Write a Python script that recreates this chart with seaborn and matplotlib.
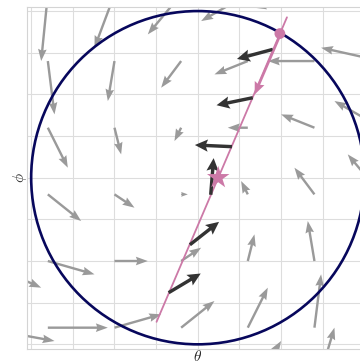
import numpy as np
import pandas as pd
import matplotlib
matplotlib.use("Agg")
import matplotlib.pyplot as plt
import seaborn as sns
from matplotlib.patches import Circle

# ---------------- data ----------------
# sample grid of the background vector field (arrow tails)
grid_x = [-5.2, -3.6, -2.0, -0.4, 1.2, 2.8, 4.4]
grid_y = [4.4, 2.8, 1.2, -0.4, -2.0, -3.6, -5.2]
# field components at the grid (rows follow grid_y, columns follow grid_x)
field_u = [
    [0.8, -0.8, -2.4, -4.0, -5.6, -7.2, -8.8],
    [2.4, 0.8, -0.8, -2.4, -4.0, -5.6, -7.2],
    [4.0, 2.4, 0.8, -0.8, -2.4, -4.0, -5.6],
    [5.6, 4.0, 2.4, 0.8, -0.8, -2.4, -4.0],
    [7.2, 5.6, 4.0, 2.4, 0.8, -0.8, -2.4],
    [8.8, 7.2, 5.6, 4.0, 2.4, 0.8, -0.8],
    [10.4, 8.8, 7.2, 5.6, 4.0, 2.4, 0.8],
]
field_v = [
    [-9.6, -8.0, -6.4, -4.8, -3.2, -1.6, 0.0],
    [-8.0, -6.4, -4.8, -3.2, -1.6, 0.0, 1.6],
    [-6.4, -4.8, -3.2, -1.6, 0.0, 1.6, 3.2],
    [-4.8, -3.2, -1.6, 0.0, 1.6, 3.2, 4.8],
    [-3.2, -1.6, 0.0, 1.6, 3.2, 4.8, 6.4],
    [-1.6, 0.0, 1.6, 3.2, 4.8, 6.4, 8.0],
    [0.0, 1.6, 3.2, 4.8, 6.4, 8.0, 9.6],
]

# constraint circle
circle_center = (0.0, 0.0)
circle_radius = 4.0

# pink search line, start point, step arrow and optimum star
line_x = [-0.99, 2.14]
line_y = [-3.46, 3.85]
start_x = [1.97]
start_y = [3.46]
step_u = [-0.62]
step_v = [-1.44]
star_x = [0.49]
star_y = [0.0]

# normalised field directions sampled along the line (dark arrows)
samp_x = [1.80, 1.32, 0.82, 0.31, -0.19, -0.70]
samp_y = [3.08, 1.92, 0.745, -0.41, -1.61, -2.76]
samp_u = [-0.86, -0.87, -0.89, 0.07, 0.70, 0.77]
samp_v = [-0.23, -0.18, 0.04, 0.88, 0.55, 0.46]

x_label = r"$\theta$"
y_label = r"$\phi$"

# ---------------- styling ----------------
sns.set_style("whitegrid", {"grid.color": "#dddddd", "axes.edgecolor": "#d4d4d4"})
plt.rcParams["mathtext.fontset"] = "cm"

PINK = "#cc79a7"
NAVY = "#07075c"
GRAY = "#9a9a9a"
DARK = "#333333"

W, H = 360, 364
fig = plt.figure(figsize=(W / 100, H / 100), dpi=100)
ax = fig.add_axes([27 / W, (H - 348.5) / H, 341.6 / W, 341.6 / H])

X, Y = np.meshgrid(grid_x, grid_y)
ax.quiver(X, Y, np.array(field_u), np.array(field_v), angles="xy",
          scale_units="xy", scale=5, color=GRAY, width=0.007,
          headwidth=3.6, headlength=5, headaxislength=4.5, zorder=2)

ax.add_patch(Circle(circle_center, circle_radius, fill=False, ec=NAVY,
                    lw=1.9, zorder=3))

line_df = pd.DataFrame({"x": line_x, "y": line_y})
sns.lineplot(data=line_df, x="x", y="y", sort=False, estimator=None,
             color=PINK, lw=1.3, ax=ax, zorder=4)

ax.quiver(samp_x, samp_y, samp_u, samp_v, angles="xy", scale_units="xy",
          scale=1, color=DARK, width=0.010, headwidth=3.6,
          headlength=3.8, headaxislength=3.3, zorder=5)

ax.quiver(start_x, start_y, step_u, step_v, angles="xy", scale_units="xy",
          scale=1, color=PINK, width=0.007, headwidth=4.4,
          headlength=5.2, headaxislength=4.6, zorder=6)

sns.scatterplot(x=start_x, y=start_y, s=60, color=PINK, edgecolor="none",
                ax=ax, zorder=7)
sns.scatterplot(x=star_x, y=star_y, s=290, marker="*", color=PINK,
                edgecolor="none", ax=ax, zorder=8)

ax.set_xlim(-4.1, 4.1)
ax.set_ylim(-4.1, 4.1)
ax.set_xticks(range(-4, 5))
ax.set_yticks(range(-4, 5))
ax.set_xticklabels([])
ax.set_yticklabels([])
ax.tick_params(length=0)
ax.set_xlabel(x_label, fontsize=11, labelpad=-3)
ax.set_ylabel(y_label, fontsize=11, labelpad=-5)

fig.savefig("out.png", dpi=100)
